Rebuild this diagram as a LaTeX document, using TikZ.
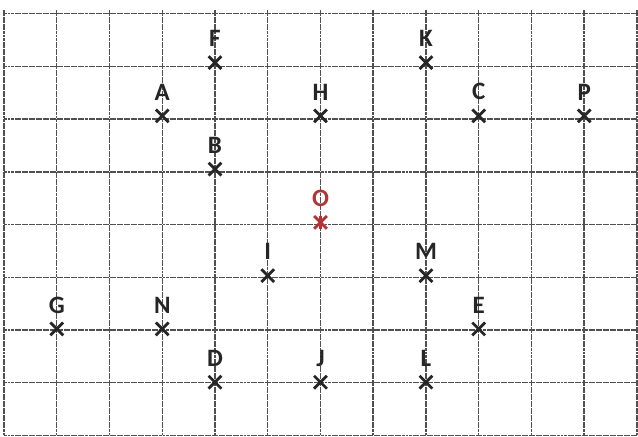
\documentclass[tikz,border=0pt]{standalone}
\usepackage{fontspec}
\setmainfont{Carlito}
\usepackage{xcolor}
\usepackage{tikz}
\usetikzlibrary{positioning,shapes.misc}
\definecolor{ptred}{RGB}{178,52,56}
\definecolor{gridgray}{RGB}{80,80,80}
\tikzset{
  gridline/.style={line width=0.8pt, draw=gridgray, dash pattern=on 1.6pt off 0.3pt},
  ptmark/.style={cross out, draw=black!85, line width=1.5pt, minimum size=0.19cm, inner sep=0pt},
  ptlabel/.style={inner sep=0pt, text=black!85, font=\fontsize{13.5}{16}\selectfont\bfseries},
  ptred/.style={draw=ptred, text=ptred},
}

\begin{document}
\begin{tikzpicture}[x=1cm, y=1.01cm]
\useasboundingbox (-0.076,-0.02) rectangle (12.02,8.175);
% the grid
\draw[gridline] (0,0) grid (12,8);
% points
\node[ptmark] (F) at (4,7) {};
\node[ptmark] (K) at (8,7) {};
\node[ptmark] (A) at (3,6) {};
\node[ptmark] (H) at (6,6) {};
\node[ptmark] (C) at (9,6) {};
\node[ptmark] (P) at (11,6) {};
\node[ptmark] (B) at (4,5) {};
\node[ptmark, ptred] (O) at (6,4) {};
\draw[draw=ptred, line width=1.5pt] (O.north) -- (O.south);
\node[ptmark] (I) at (5,3) {};
\node[ptmark] (M) at (8,3) {};
\node[ptmark] (G) at (1,2) {};
\node[ptmark] (N) at (3,2) {};
\node[ptmark] (E) at (9,2) {};
\node[ptmark] (D) at (4,1) {};
\node[ptmark] (J) at (6,1) {};
\node[ptmark] (L) at (8,1) {};
% letters
\node[ptlabel, above=0.17cm of F] (Ftxt) {F};
\node[ptlabel, above=0.17cm of K] (Ktxt) {K};
\node[ptlabel, above=0.17cm of A] (Atxt) {A};
\node[ptlabel, above=0.17cm of H] (Htxt) {H};
\node[ptlabel, above=0.17cm of C] (Ctxt) {C};
\node[ptlabel, above=0.17cm of P] (Ptxt) {P};
\node[ptlabel, above=0.17cm of B] (Btxt) {B};
\node[ptlabel, text=ptred, above=0.17cm of O] (Otxt) {O};
\node[ptlabel, above=0.17cm of I] (Itxt) {I};
\node[ptlabel, above=0.17cm of M] (Mtxt) {M};
\node[ptlabel, above=0.17cm of G] (Gtxt) {G};
\node[ptlabel, above=0.17cm of N] (Ntxt) {N};
\node[ptlabel, above=0.17cm of E] (Etxt) {E};
\node[ptlabel, above=0.17cm of D] (Dtxt) {D};
\node[ptlabel, above=0.17cm of J] (Jtxt) {J};
\node[ptlabel, above=0.17cm of L] (Ltxt) {L};
\end{tikzpicture}
\end{document}
